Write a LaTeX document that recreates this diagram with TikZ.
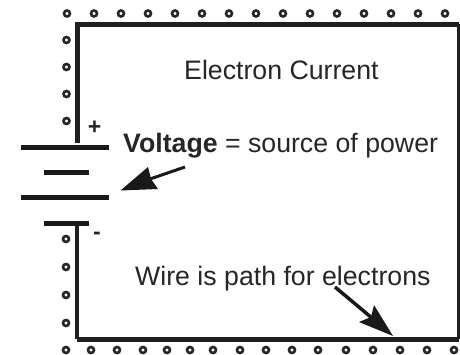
\documentclass[tikz,border=0pt]{standalone}
\usepackage{fontspec}
\setmainfont{Liberation Sans}
\begin{document}
\begin{tikzpicture}[x=1pt,y=-1pt,
  wire/.style={line width=#1,draw=black!88,line cap=butt,line join=miter},
  wire/.default=4.5pt,
  plate/.style={line width=5pt,draw=black!90},
  dot/.style={circle,draw=black!85,line width=2.6pt,minimum size=6pt,inner sep=0pt,fill=white},
  label/.style={inner sep=0pt,anchor=base west,text=black!85,font=\fontsize{26.7}{30}\selectfont},
  head/.style={fill=black!90,draw=none}]
\useasboundingbox (0,0) rectangle (460,354);
\fill[white] (0,0) rectangle (460,354);
% wire
\coordinate (plusend) at (77,143);
\coordinate (tl) at (77,24);
\coordinate (tr) at (458.5,24);
\coordinate (br) at (458.5,339);
\coordinate (bl) at (77,339);
\coordinate (minusend) at (77,223);
\draw[wire=5pt] (plusend) -- (tl) -- (tr);
\draw[wire=3pt] (tr) -- (br);
\draw[wire=5pt] (br) -- (bl);
\draw[wire=4.5pt] (bl) -- (minusend);
% battery
\coordinate (p1a) at (21,147); \coordinate (p1b) at (109,147);
\coordinate (p2a) at (44,172.5); \coordinate (p2b) at (89,172.5);
\coordinate (p3a) at (21,197); \coordinate (p3b) at (109,197);
\coordinate (p4a) at (44,223); \coordinate (p4b) at (89,223);
\draw[plate] (p1a) -- (p1b);
\draw[plate] (p2a) -- (p2b);
\draw[plate] (p3a) -- (p3b);
\draw[plate] (p4a) -- (p4b);
% dots
\foreach \x in {67,94,121,148,175,202,229,256,283,310,337,364,391,418,445}
  \node[dot] at (\x,13.5) {};
\foreach \y in {40,67,94,121}
  \node[dot] at (66.5,\y) {};
\foreach \y in {239,267,295,323}
  \node[dot] at (66,\y) {};
\foreach \x in {66,91,117,143,167,190,213,240,266,292,318,346,373,400,427,454}
  \node[dot] at (\x,350) {};
% signs
\node[inner sep=0pt,font=\bfseries\fontsize{23}{23}\selectfont,text=black!85] (plus) at (94.5,128) {+};
\node[inner sep=0pt,font=\bfseries\fontsize{23}{23}\selectfont,text=black!85] (minus) at (97,236) {-};
% labels
\node[label] (current) at (184,79.5) {Electron Current};
\node[label] (volt) at (123,152.5) {\textbf{Voltage} = source of power};
\node[label] (wire) at (135,285) {Wire is path for electrons};
% arrows
\coordinate (a1s) at (185,167);
\coordinate (a1t) at (120.5,190.5);
\draw[line width=3pt,draw=black!90] (a1s) -- (150,179);
\fill[head] (a1t) -- (148,167) -- (151,179) -- (158,189) -- cycle;
\coordinate (a2s) at (335,287);
\coordinate (a2t) at (393,336);
\draw[line width=3.5pt,draw=black!90] (a2s) -- (372,318);
\fill[head] (a2t) -- (359,322) -- (371,317) -- (374,305) -- cycle;
\end{tikzpicture}
\end{document}
